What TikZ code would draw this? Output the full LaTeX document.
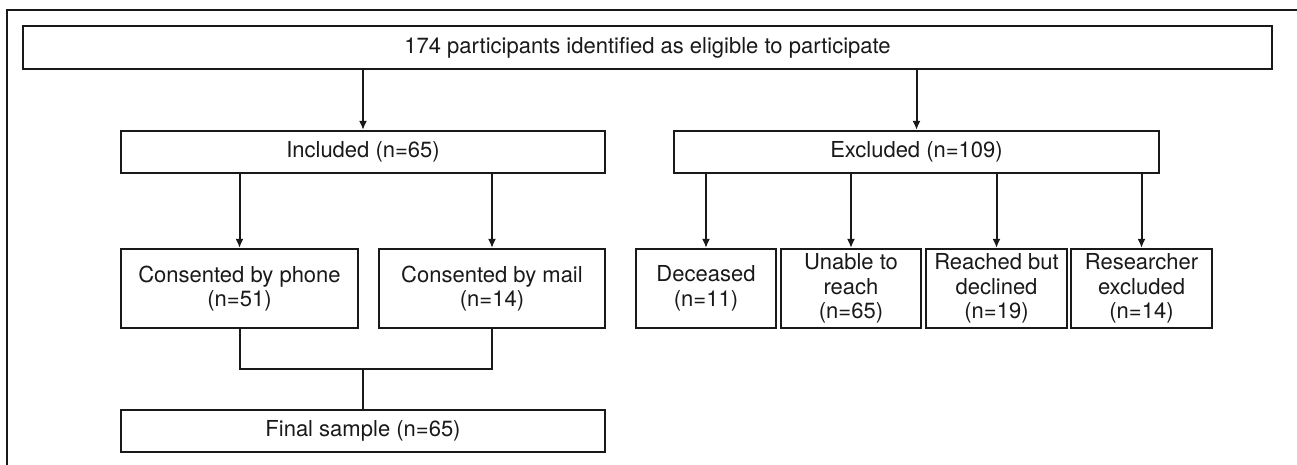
\documentclass[tikz,border=0pt]{standalone}
\usepackage{fontspec}
\setmainfont{TeX Gyre Heros}
\usetikzlibrary{arrows.meta}
\begin{document}
\begin{tikzpicture}[x=1pt,y=-1pt,
  box/.style={draw=black!90,line width=2.2pt,rectangle,inner sep=0pt,align=center,
    font=\fontsize{22}{24.5}\selectfont,text=black!90},
  arr/.style={draw=black!90,line width=2pt,-{Latex[length=9pt,width=8pt]}},
  ln/.style={draw=black!90,line width=2pt}]
\useasboundingbox (0,0) rectangle (1297,465);
\draw[black!90,line width=1.2pt] (7,465) -- (7,10) -- (1297,10);
\node[box,minimum width=1249pt,minimum height=43pt] (top) at (647.5,47.5) {174 participants identified as eligible to participate};
\node[box,minimum width=484pt,minimum height=42pt] (inc) at (363,152) {Included (n=65)};
\node[box,minimum width=485pt,minimum height=42pt] (exc) at (916.5,152) {Excluded (n=109)};
\node[box,minimum width=237pt,minimum height=79pt] (phone) at (239.5,288.5) {Consented by phone\\(n=51)};
\node[box,minimum width=226pt,minimum height=79pt] (mail) at (492,288.5) {Consented by mail\\(n=14)};
\node[box,minimum width=484pt,minimum height=42pt] (final) at (363,431) {Final sample (n=65)};
\node[box,minimum width=140pt,minimum height=79pt] (dec) at (706,288.5) {Deceased\\(n=11)};
\node[box,minimum width=140pt,minimum height=79pt] (unable) at (851,288.5) {Unable to\\reach\\(n=65)};
\node[box,minimum width=141pt,minimum height=79pt] (reached) at (996.5,288.5) {Reached but\\declined\\(n=19)};
\node[box,minimum width=141pt,minimum height=79pt] (res) at (1141.5,288.5) {Researcher\\excluded\\(n=14)};
\draw[arr] (top.south -| inc.north) -- (inc.north);
\draw[arr] (top.south -| exc.north) -- (exc.north);
\draw[arr] (inc.south -| phone.north) -- (phone.north);
\draw[arr] (inc.south -| mail.north) -- (mail.north);
\draw[arr] (exc.south -| dec.north) -- (dec.north);
\draw[arr] (exc.south -| unable.north) -- (unable.north);
\draw[arr] (exc.south -| reached.north) -- (reached.north);
\draw[arr] (exc.south -| res.north) -- (res.north);
\coordinate (mj) at (363,369);
\draw[ln] (phone.south) |- (mj) -| (mail.south);
\draw[ln] (mj) -- (final.north);
\end{tikzpicture}
\end{document}
